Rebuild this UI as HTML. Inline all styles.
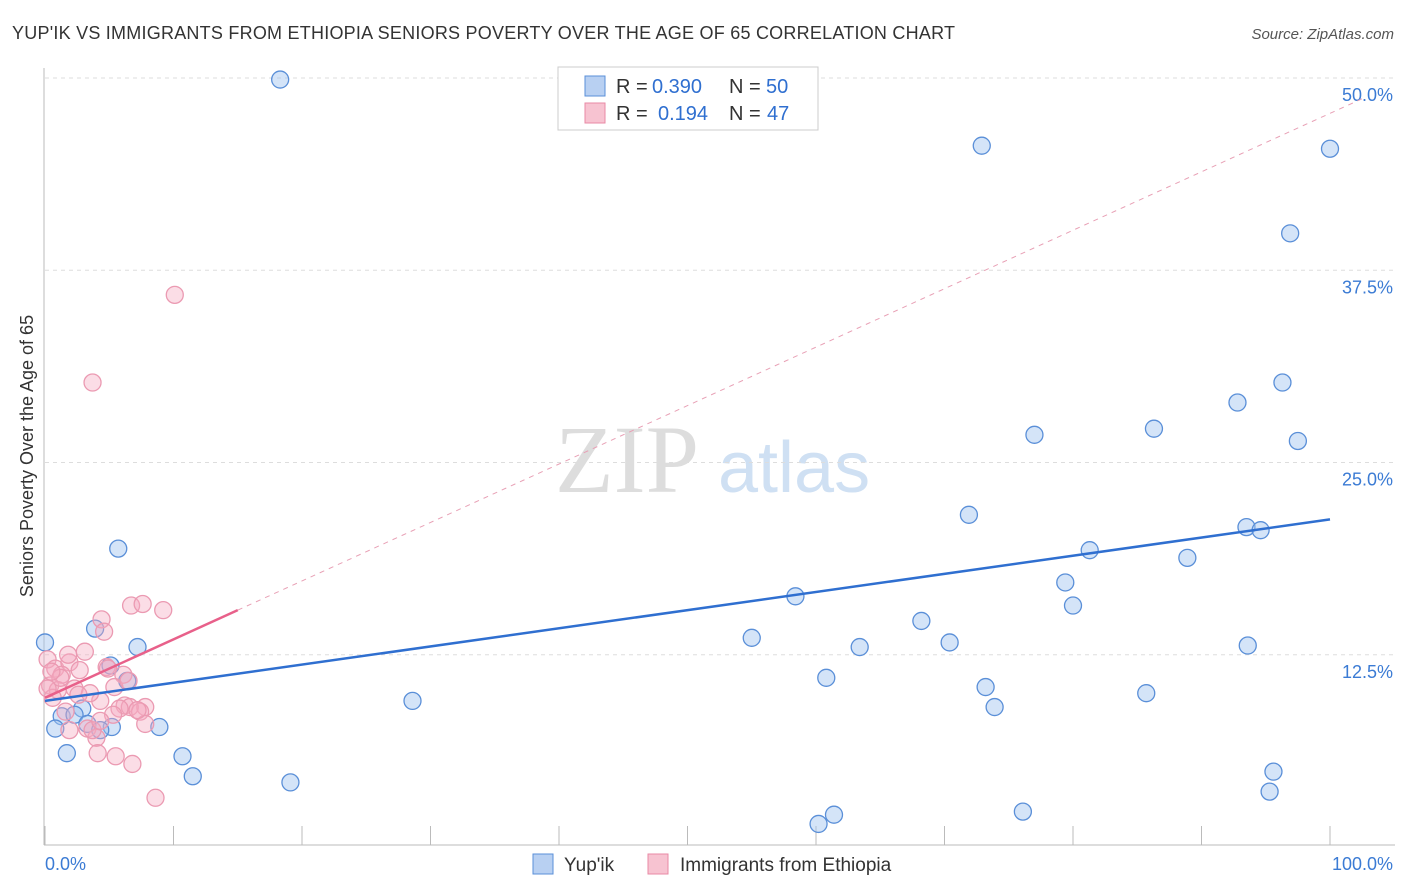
<!DOCTYPE html>
<html><head><meta charset="utf-8">
<style>
body{margin:0;background:#fff;font-family:"Liberation Sans",sans-serif;}
svg{display:block}
</style></head>
<body>
<svg id="chart" width="1406" height="892">
<text x="12" y="39" font-size="18" fill="#333" textLength="943">YUP'IK VS IMMIGRANTS FROM ETHIOPIA SENIORS POVERTY OVER THE AGE OF 65 CORRELATION CHART</text>
<text x="1394" y="39" font-size="15" fill="#555" font-style="italic" text-anchor="end">Source: ZipAtlas.com</text>
<text x="33" y="456" font-size="18" fill="#333" text-anchor="middle" transform="rotate(-90 33 456)">Seniors Poverty Over the Age of 65</text>
<text x="555" y="492" font-size="96" fill="#ddd" font-family="Liberation Serif">ZIP</text>
<text x="718" y="492" font-size="72" fill="#cfe0f3">atlas</text>
<g id="grid"></g>
<g id="marks"></g>
<g>
<rect x="558" y="67" width="260" height="63" fill="#fff" stroke="#ccc"/>
<rect x="585" y="76" width="20" height="20" fill="#b8d0f2" stroke="#5a8fd8"/>
<text x="616" y="93" font-size="20" fill="#333">R =</text>
<text x="652" y="93" font-size="20" fill="#2f6fd0">0.390</text>
<text x="729" y="93" font-size="20" fill="#333">N =</text>
<text x="766" y="93" font-size="20" fill="#2f6fd0">50</text>
<rect x="585" y="103" width="20" height="20" fill="#f7c3d1" stroke="#e889a5"/>
<text x="616" y="120" font-size="20" fill="#333">R =</text>
<text x="658" y="120" font-size="20" fill="#2f6fd0">0.194</text>
<text x="729" y="120" font-size="20" fill="#333">N =</text>
<text x="767" y="120" font-size="20" fill="#2f6fd0">47</text>
</g>
<g>
<rect x="533" y="854" width="20" height="20" fill="#b8d0f2" stroke="#5a8fd8"/>
<text x="564" y="871" font-size="19" fill="#333">Yup'ik</text>
<rect x="648" y="854" width="20" height="20" fill="#f7c3d1" stroke="#e889a5"/>
<text x="680" y="871" font-size="19" fill="#333">Immigrants from Ethiopia</text>
</g>
</svg>
<script>
const yTicks=[12.5,25,37.5,50];
const yTickLabels=["12.5%","25.0%","37.5%","50.0%"];
const xTickLabels=["0.0%","100.0%"];
const yupikX=[18.3,72.9,100,96.9,96.3,92.8,77.0,86.3,97.5,71.9,93.5,94.6,81.3,88.9,79.4,80.0,58.4,68.2,55.0,70.4,63.4,93.6,60.8,73.2,73.9,85.7,95.6,95.3,76.1,61.4,60.2,0,5.7,3.9,7.2,5.1,6.4,2.9,1.3,2.3,0.8,3.3,5.2,4.3,8.9,1.7,10.7,11.5,19.1,28.6];
const yupikY=[49.9,45.6,45.4,39.9,30.2,28.9,26.8,27.2,26.4,21.6,20.8,20.6,19.3,18.8,17.2,15.7,16.3,14.7,13.6,13.3,13.0,13.1,11.0,10.4,9.1,10.0,4.9,3.6,2.3,2.1,1.5,13.3,19.4,14.2,13.0,11.8,10.8,9.0,8.5,8.6,7.7,8.0,7.8,7.6,7.8,6.1,5.9,4.6,4.2,9.5];
const ethX=[10.1,3.7,4.4,6.7,7.6,9.2,4.6,3.1,0.2,0.8,1.9,2.7,1.3,0.4,1.0,2.3,4.3,3.5,6.1,4.8,5.4,6.2,7.8,6.6,5.8,7.4,5.3,0.6,3.3,4.0,1.9,4.1,5.5,6.8,8.6,7.8,1.2,0.2,1.6,2.6,4.9,6.5,3.7,0.5,1.8,7.2,4.3];
const ethY=[35.9,30.2,14.8,15.7,15.8,15.4,14.0,12.7,12.2,11.6,12.0,11.5,11.2,10.5,10.2,10.3,9.5,10.0,11.2,11.7,10.4,9.2,9.1,9.1,9.0,8.8,8.6,9.7,7.7,7.1,7.6,6.1,5.9,5.4,3.2,8.0,11.0,10.3,8.8,9.9,11.6,10.8,7.6,11.4,12.5,8.9,8.2];
const yupikTrend=[9.5,21.3];
const ethTrend=[9.7,15.4];
const ethTrendEndX=15;
const NS="http://www.w3.org/2000/svg";
const X=v=>45+v*12.85, Y=v=>847-v*15.38;
function mk(t,a,p){const e=document.createElementNS(NS,t);for(const k in a)e.setAttribute(k,a[k]);(p||document.getElementById('marks')).appendChild(e);return e;}
const grid=document.getElementById('grid');
yTicks.forEach((t,i)=>{
 const l=mk('line',{x1:45,x2:1395,y1:Y(t),y2:Y(t),stroke:'#ddd','stroke-dasharray':'4,4'},grid);
 
 
 const tx=mk('text',{x:1393,y:Y(t)+23,'font-size':18,fill:'#3b7bd4','text-anchor':'end'},grid);
 tx.textContent=yTickLabels[i];
 
 
});
const ax=mk('line',{x1:44,x2:44,y1:68,y2:845,stroke:'#bbb'},grid);


const bx=mk('line',{x1:44,x2:1395,y1:845,y2:845,stroke:'#bbb'},grid);


for(let i=0;i<=10;i++){const t=mk('line',{x1:X(i*10),x2:X(i*10),y1:826,y2:845,stroke:'#bbb'},grid);
 
 }
[[0,45,'start'],[100,1393,'end']].forEach((d,i)=>{const t=mk('text',{x:d[1],y:870,'font-size':18,fill:'#3b7bd4','text-anchor':d[2]},grid);t.textContent=xTickLabels[i];
 
 });
yupikX.forEach((x,i)=>{const c=mk('circle',{cx:X(x),cy:Y(yupikY[i]),r:8.5,fill:'rgba(160,195,240,0.45)',stroke:'#5a8fd8','stroke-width':1.3});
 
 });
ethX.forEach((x,i)=>{const c=mk('circle',{cx:X(x),cy:Y(ethY[i]),r:8.5,fill:'rgba(245,170,192,0.4)',stroke:'#eb9ab2','stroke-width':1.3});
 
 });
const s=(ethTrend[1]-ethTrend[0])/ethTrendEndX;
const d=mk('line',{x1:X(ethTrendEndX),y1:Y(ethTrend[1]),x2:X(102.7),y2:Y(ethTrend[0]+s*102.7),stroke:'#e8a0b5','stroke-dasharray':'5,5'});


const p=mk('line',{x1:X(0),y1:Y(ethTrend[0]),x2:X(ethTrendEndX),y2:Y(ethTrend[1]),stroke:'#e8608a','stroke-width':2.5});


const b=mk('line',{x1:X(0),y1:Y(yupikTrend[0]),x2:X(100),y2:Y(yupikTrend[1]),stroke:'#2f6fd0','stroke-width':2.5});


</script>
</body></html>
